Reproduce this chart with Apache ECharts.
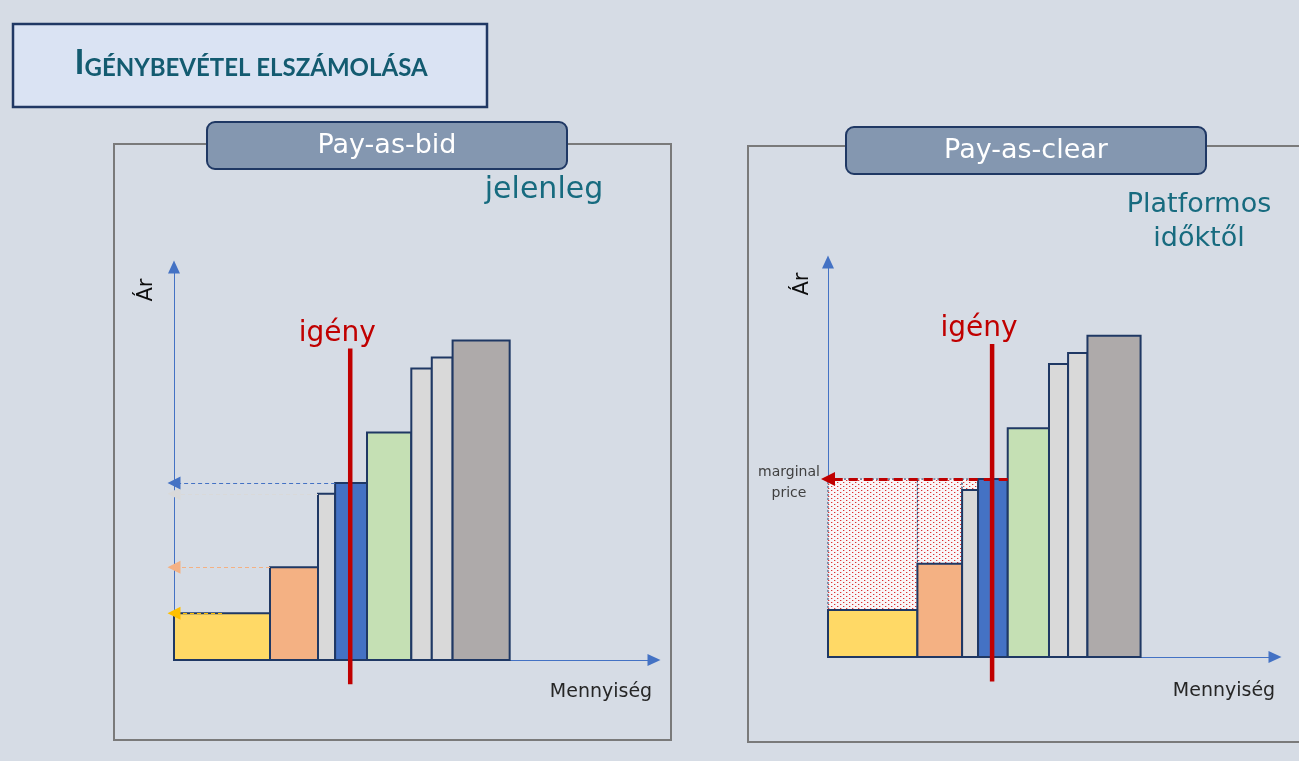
<!DOCTYPE html>
<html><head><meta charset="utf-8">
<script src="https://cdn.jsdelivr.net/npm/echarts@6/dist/echarts.min.js"></script>
<style>html,body{margin:0;padding:0;background:#D6DCE5;}#c{width:1299px;height:761px;}</style>
</head><body><div id="c"></div>
<script>
// ---- data (units: quantity on x, price on y) ----
const offerWidths = [28.6, 14.3, 5.1, 9.5, 13.2, 6.1, 6.2, 17.0];
const offerPrices = [14.6, 29.0, 52.0, 55.4, 71.2, 91.2, 94.7, 100.0];
const offerColors = ['#FFD966', '#F4B183', '#D9D9D9', '#4472C4', '#C5E0B4', '#D9D9D9', '#D9D9D9', '#AEAAAA'];
const bidArrowColors = ['#FFC000', '#F4B183', '#D9D9D9', '#4472C4'];
const demandQty = 52.5;
const demandSpan = [-7.6, 97.5];
const axisMaxX = 143;
const axisMaxY = 123;
const panelTitles = ['Pay-as-bid', 'Pay-as-clear'];
const panelNotes = ['jelenleg', 'Platformos\nidőktől'];
const axisNames = ['Ár', 'Mennyiség'];
const mainTitle = ['I', 'GÉNYBEVÉTEL ELSZÁMOLÁSA'];

// ---- derived ----
const starts = [];
let acc = 0;
offerWidths.forEach(w => { starts.push(acc); acc += w; });
const bars = offerWidths.map((w, i) => [starts[i], starts[i] + w, offerPrices[i], i]);
const margIdx = bars.findIndex(b => demandQty >= b[0] && demandQty < b[1]);
const marginalPrice = offerPrices[margIdx];
const margEnd = bars[margIdx][1];
const hatch = bars.filter((b, i) => i < margIdx).map(b => [b[0], b[1], b[2], marginalPrice]);

function makeDots() {
  const c = document.createElement('canvas'); c.width = 6; c.height = 4;
  const g = c.getContext('2d');
  g.fillStyle = '#F9F6F8'; g.fillRect(0, 0, 6, 4);
  g.fillStyle = '#DD3030'; g.fillRect(0, 0, 1, 1); g.fillRect(3, 2, 1, 1);
  g.fillStyle = '#F0B8B8'; g.fillRect(1, 0, 1, 1); g.fillRect(4, 2, 1, 1);
  return c;
}
const dotPattern = { image: makeDots(), repeat: 'repeat' };

const FONT = '"DejaVu Sans", sans-serif';

function barRender(params, api) {
  const p0 = api.coord([api.value(0), api.value(2)]);
  const p1 = api.coord([api.value(1), 0]);
  return { type: 'rect', shape: { x: p0[0], y: p0[1], width: p1[0] - p0[0], height: p1[1] - p0[1] },
    style: { fill: offerColors[api.value(3)], stroke: '#1F3864', lineWidth: 2 } };
}
function hatchRender(params, api) {
  const p0 = api.coord([api.value(0), api.value(3)]);
  const p1 = api.coord([api.value(1), api.value(2)]);
  return { type: 'rect', shape: { x: p0[0], y: p0[1], width: p1[0] - p0[0], height: p1[1] - p0[1] },
    style: { fill: dotPattern, stroke: '#1F3864', lineWidth: 1, lineDash: [2, 2] } };
}
function demandRender(params, api) {
  const a = api.coord([api.value(0), api.value(1)]);
  const b = api.coord([api.value(0), api.value(2)]);
  return { type: 'group', children: [
    { type: 'line', shape: { x1: a[0], y1: a[1], x2: b[0], y2: b[1] }, style: { stroke: '#C00000', lineWidth: 4.5 } },
    { type: 'text', x: b[0] - 13, y: b[1] - 1, style: { text: 'igény', fontSize: 28, fontFamily: FONT, fill: '#C00000', align: 'center', verticalAlign: 'bottom' } }
  ] };
}
function margLabelRender(params, api) {
  const p = api.coord([api.value(0), api.value(1)]);
  return { type: 'text', x: p[0] - 39, y: p[1] + 4, style: { text: 'marginal\nprice', fontSize: 14, lineHeight: 21, fontFamily: FONT, fill: '#404040', align: 'center', verticalAlign: 'middle' } };
}

const axisCommon = {
  type: 'value', min: 0,
  axisLine: { show: true, onZero: false, symbol: ['none', 'triangle'], symbolSize: [12, 13], lineStyle: { color: '#4472C4', width: 1 } },
  axisTick: { show: false }, axisLabel: { show: false }, splitLine: { show: false }
};

const bidArrows = bars.filter((b, i) => i < bidArrowColors.length).map((b, i) => {
  const x0 = b[0] > 0 ? b[0] : b[0] + offerWidths[i] / 2;
  return [
    { coord: [x0, b[2]], lineStyle: { color: bidArrowColors[i], type: [4, 3], width: 1 } },
    { coord: [0, b[2]] }
  ];
});

const option = {
  backgroundColor: '#D6DCE5',
  animation: false,
  grid: [
    { left: 174, top: 267, width: 480, height: 393 },
    { left: 828, top: 262, width: 447, height: 395 }
  ],
  xAxis: [0, 1].map(i => Object.assign({}, axisCommon, { gridIndex: i, max: axisMaxX })),
  yAxis: [0, 1].map(i => Object.assign({}, axisCommon, { gridIndex: i, max: axisMaxY })),
  graphic: [
    { type: 'rect', z: 1, shape: { x: 13, y: 24, width: 474, height: 83 }, style: { fill: '#DAE3F3', stroke: '#203864', lineWidth: 2.5 } },
    { type: 'text', z: 2, x: 251, y: 80, style: { text: '{a|' + mainTitle[0] + '}{b|' + mainTitle[1] + '}', align: 'center', verticalAlign: 'bottom',
      rich: { a: { fontSize: 34, fontFamily: 'Lato', fontWeight: 'bold', fill: '#135B70', verticalAlign: 'bottom' },
              b: { fontSize: 24, fontFamily: 'Lato', fontWeight: 'bold', fill: '#135B70', verticalAlign: 'bottom' } } } },
    { type: 'rect', z: 1, shape: { x: 114, y: 144, width: 557, height: 596 }, style: { fill: 'none', stroke: '#7A7A7A', lineWidth: 2 } },
    { type: 'rect', z: 1, shape: { x: 748, y: 146, width: 620, height: 596 }, style: { fill: 'none', stroke: '#7A7A7A', lineWidth: 2 } },
    { type: 'rect', z: 3, shape: { x: 207, y: 122, width: 360, height: 47, r: 8 }, style: { fill: '#8497B0', stroke: '#1F3864', lineWidth: 2 } },
    { type: 'text', z: 4, x: 387, y: 146, style: { text: panelTitles[0], fontSize: 27, fontFamily: FONT, fill: '#FFFFFF', align: 'center', verticalAlign: 'middle' } },
    { type: 'rect', z: 3, shape: { x: 846, y: 127, width: 360, height: 47, r: 8 }, style: { fill: '#8497B0', stroke: '#1F3864', lineWidth: 2 } },
    { type: 'text', z: 4, x: 1026, y: 151, style: { text: panelTitles[1], fontSize: 27, fontFamily: FONT, fill: '#FFFFFF', align: 'center', verticalAlign: 'middle' } },
    { type: 'text', z: 4, x: 544, y: 190, style: { text: panelNotes[0], fontSize: 30, fontFamily: FONT, fill: '#176B7F', align: 'center', verticalAlign: 'middle' } },
    { type: 'text', z: 4, x: 1199, y: 222, style: { text: panelNotes[1], fontSize: 27, lineHeight: 34, fontFamily: FONT, fill: '#176B7F', align: 'center', verticalAlign: 'middle' } },
    { type: 'text', z: 4, x: 147, y: 290, rotation: Math.PI / 2, style: { text: axisNames[0], fontSize: 21, fontFamily: FONT, fill: '#0D0D0D', align: 'center', verticalAlign: 'middle' } },
    { type: 'text', z: 4, x: 803, y: 284, rotation: Math.PI / 2, style: { text: axisNames[0], fontSize: 21, fontFamily: FONT, fill: '#0D0D0D', align: 'center', verticalAlign: 'middle' } },
    { type: 'text', z: 4, x: 601, y: 692, style: { text: axisNames[1], fontSize: 19, fontFamily: FONT, fill: '#262626', align: 'center', verticalAlign: 'middle' } },
    { type: 'text', z: 4, x: 1224, y: 691, style: { text: axisNames[1], fontSize: 19, fontFamily: FONT, fill: '#262626', align: 'center', verticalAlign: 'middle' } }
  ],
  series: [
    { type: 'custom', xAxisIndex: 0, yAxisIndex: 0, z: 2, clip: false, renderItem: barRender, data: bars, encode: { x: [0, 1], y: 2 },
      markLine: { silent: true, animation: false, symbol: ['none', 'triangle'], symbolSize: [13, 13], label: { show: false }, data: bidArrows } },
    { type: 'custom', xAxisIndex: 0, yAxisIndex: 0, z: 5, clip: false, renderItem: demandRender, data: [[demandQty, demandSpan[0], demandSpan[1]]], encode: { x: 0, y: [1, 2] } },
    { type: 'custom', xAxisIndex: 1, yAxisIndex: 1, z: 1, clip: false, renderItem: hatchRender, data: hatch, encode: { x: [0, 1], y: [2, 3] } },
    { type: 'custom', xAxisIndex: 1, yAxisIndex: 1, z: 2, clip: false, renderItem: barRender, data: bars, encode: { x: [0, 1], y: 2 },
      markLine: { silent: true, animation: false, symbol: ['none', 'triangle'], symbolSize: [14, 14], label: { show: false },
        data: [[{ coord: [margEnd, marginalPrice], lineStyle: { color: '#C00000', type: [9, 6], width: 3 } }, { coord: [0, marginalPrice] }]] } },
    { type: 'custom', xAxisIndex: 1, yAxisIndex: 1, z: 5, clip: false, renderItem: demandRender, data: [[demandQty, demandSpan[0], demandSpan[1]]], encode: { x: 0, y: [1, 2] } },
    { type: 'custom', xAxisIndex: 1, yAxisIndex: 1, z: 5, clip: false, renderItem: margLabelRender, data: [[0, marginalPrice]], encode: { x: 0, y: 1 } }
  ]
};
const chart = echarts.init(document.getElementById('c'));
chart.setOption(option);
</script>
</body></html>
